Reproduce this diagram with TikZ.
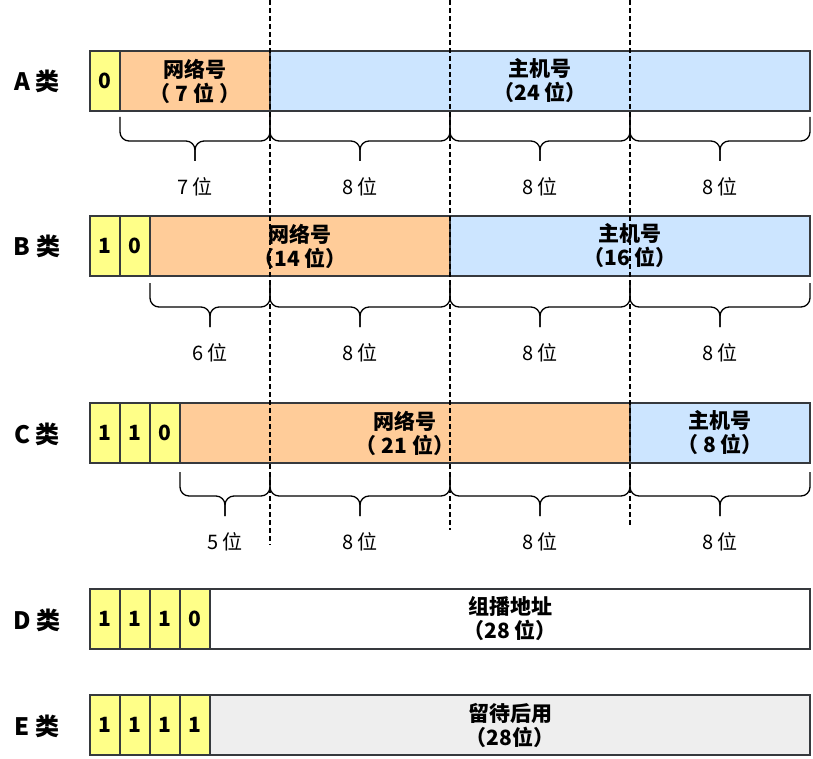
\documentclass[tikz,border=0pt]{standalone}
\usepackage{fontspec}
\setmainfont{Noto Sans CJK SC}
\usepackage{xcolor}
\usetikzlibrary{positioning}
\definecolor{frame}{HTML}{36393D}
\definecolor{bitfill}{HTML}{FFFF88}
\definecolor{netfill}{HTML}{FFCC99}
\definecolor{hostfill}{HTML}{CCE5FF}
\definecolor{sparefill}{HTML}{EEEEEE}

\begin{document}
\begin{tikzpicture}
  [
    x=1pt, y=-1pt,
    Cell/.style={rectangle, draw=frame, line width=1.8pt, outer sep=0pt, inner sep=0pt, minimum height=60pt, align=center, font=\bfseries\fontsize{21}{24}\selectfont},
    Bit/.style={Cell, fill=bitfill, minimum width=30pt},
    Net/.style={Cell, fill=netfill},
    Host/.style={Cell, fill=hostfill},
    Group/.style={Cell, fill=white},
    Spare/.style={Cell, fill=sparefill},
    Class/.style={font=\bfseries\fontsize{24}{28}\selectfont},
    Width/.style={font=\fontsize{20}{24}\selectfont},
    Brace/.style={line width=1.3pt, rounded corners=9pt},
    Split/.style={line width=1.1pt, dash pattern=on 5pt off 3pt}
  ]
  \useasboundingbox (0,0) rectangle (813,759);
  % Class labels
  \node[Class] (ca) at (37,81) {A 类};
  \node[Class] (cb) at (37,246) {B 类};
  \node[Class] (cc) at (37,434) {C 类};
  \node[Class] (cd) at (37,620) {D 类};
  \node[Class] (ce) at (37,726) {E 类};
  % A
  \node[Bit] (a1) at (105,81) {0};
  \node[Net, minimum width=150pt, right=0pt of a1] (anet) {网络号\\（ 7 位 ）};
  \node[Host, minimum width=540pt, right=0pt of anet] (ahost) {主机号\\（24 位）};
  % B
  \node[Bit] (b1) at (105,246) {1};
  \node[Bit, right=0pt of b1] (b2) {0};
  \node[Net, minimum width=300pt, right=0pt of b2] (bnet) {网络号\\（14 位）};
  \node[Host, minimum width=360pt, right=0pt of bnet] (bhost) {主机号\\（16 位）};
  % C
  \node[Bit] (c1) at (105,433) {1};
  \node[Bit, right=0pt of c1] (c2) {1};
  \node[Bit, right=0pt of c2] (c3) {0};
  \node[Net, minimum width=450pt, right=0pt of c3] (cnet) {网络号\\（ 21 位）};
  \node[Host, minimum width=180pt, right=0pt of cnet] (chost) {主机号\\（ 8 位）};
  % D
  \node[Bit] (d1) at (105,619) {1};
  \node[Bit, right=0pt of d1] (d2) {1};
  \node[Bit, right=0pt of d2] (d3) {1};
  \node[Bit, right=0pt of d3] (d4) {0};
  \node[Group, minimum width=600pt, right=0pt of d4] (dgroup) {组播地址\\（28 位）};
  % E
  \node[Bit] (e1) at (105,725) {1};
  \node[Bit, right=0pt of e1] (e2) {1};
  \node[Bit, right=0pt of e2] (e3) {1};
  \node[Bit, right=0pt of e3] (e4) {1};
  \node[Spare, minimum width=600pt, right=0pt of e4] (espare) {留待后用\\（28位）};
  % Braces
  \foreach \l/\r/\t/\w in {120/270/117/7 位, 270/450/117/8 位, 450/630/117/8 位, 630/810/117/8 位,
                           150/270/283/6 位, 270/450/283/8 位, 450/630/283/8 位, 630/810/283/8 位,
                           180/270/472/5 位, 270/450/472/8 位, 450/630/472/8 位, 630/810/472/8 位}
  {
    \pgfmathsetmacro{\m}{(\l+\r)/2}
    \draw[Brace] (\l,\t) -- (\l,\t+24) -- (\m,\t+24) -- (\m,\t+44);
    \draw[Brace] (\r,\t) -- (\r,\t+24) -- (\m,\t+24) -- (\m,\t+44);
    \node[Width] (w-\t-\l) at (\m,\t+70) {\w};
  }
  % Lines
  \draw[Split] (270,0) -- (270,545);
  \draw[Split] (450,0) -- (450,530);
  \draw[Split] (630,0) -- (630,525);
\end{tikzpicture}
\end{document}
